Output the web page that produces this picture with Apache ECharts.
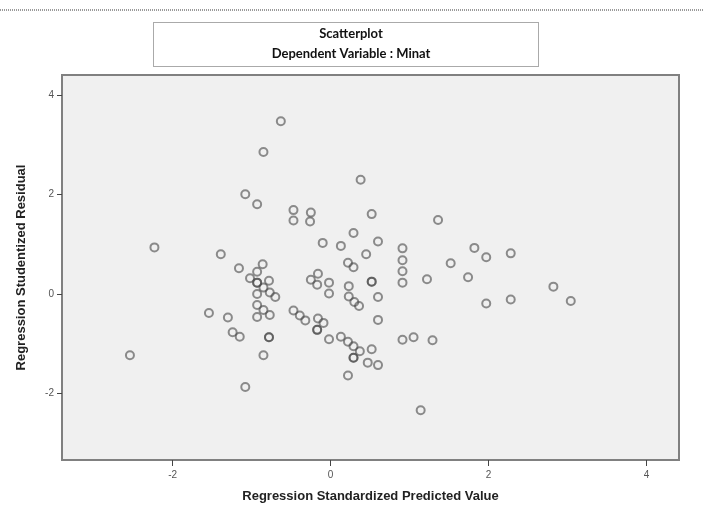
<!DOCTYPE html>
<html>
<head>
<meta charset="utf-8">
<script src="https://cdn.jsdelivr.net/npm/echarts@6/dist/echarts.min.js"></script>
<style>
html,body{margin:0;padding:0;background:#fff;}
#c{width:704px;height:507px;}
</style>
</head>
<body>
<div id="c"></div>
<script>
// Data: Regression Standardized Predicted Value (x) vs Regression Studentized Residual (y)
var predicted = [
  -0.63,-0.85,-1.08,-0.93,-0.47,-0.25,-0.47,-0.26,-2.23,-0.10,
   0.13,-1.39,-1.16,-0.86,-0.93,-1.02,-0.93,-0.78,-0.85,-0.16,
  -0.25,-0.17,-0.02, 0.22, 0.29,-0.93,-0.77,-0.70,-0.02, 0.23,
   0.23,-0.93,-0.85,-0.77,-0.93,-1.54,-1.30,-1.24,-1.15,-0.78,
  -0.47,-0.39,-0.32,-0.16,-0.09,-0.17,-0.02, 0.13, 0.22,-2.54,
  -0.85,-1.08, 0.29, 0.45, 0.60, 0.30, 0.36, 0.52, 0.52, 0.60,
   0.60, 0.29, 0.37, 0.29, 0.29, 0.52, 0.47, 0.60, 0.22, 0.38,
   0.52, 1.36, 0.91, 0.91, 0.91, 0.91, 1.52, 1.82, 1.97, 2.28,
   1.22, 1.74, 2.82, 3.04, 1.97, 2.28, 0.91, 1.05, 1.29, 1.14,
  -0.78,-0.17,-0.93
];
var residual = [
   3.48, 2.86, 2.01, 1.81, 1.69, 1.64, 1.48, 1.46, 0.94, 1.03,
   0.97, 0.80, 0.52, 0.60, 0.45, 0.32, 0.23, 0.27, 0.13, 0.41,
   0.29, 0.19, 0.23, 0.63, 1.23, 0.00, 0.03,-0.06, 0.01, 0.16,
  -0.05,-0.22,-0.32,-0.42,-0.46,-0.38,-0.47,-0.77,-0.86,-0.87,
  -0.33,-0.43,-0.53,-0.49,-0.58,-0.72,-0.91,-0.86,-0.96,-1.23,
  -1.23,-1.87, 0.54, 0.80, 1.06,-0.16,-0.24, 0.25, 0.25,-0.06,
  -0.52,-1.05,-1.15,-1.28,-1.28,-1.11,-1.38,-1.43,-1.64, 2.30,
   1.61, 1.49, 0.92, 0.68, 0.46, 0.23, 0.62, 0.93, 0.74, 0.82,
   0.30, 0.34, 0.15,-0.14,-0.19,-0.11,-0.92,-0.87,-0.93,-2.34,
  -0.87,-0.72, 0.23
];
var tickValues = [-2, 0, 2, 4];
var xName = 'Regression Standardized Predicted Value';
var yName = 'Regression Studentized Residual';
var titleLines = ['Scatterplot', 'Dependent Variable : Minat'];

var points = predicted.map(function (v, i) { return [v, residual[i]]; });

var chart = echarts.init(document.getElementById('c'), null, {renderer: 'canvas'});
var tickLabel = {color: '#555', fontSize: 10, fontFamily: 'Liberation Sans, Arial, sans-serif'};
chart.setOption({
  animation: false,
  backgroundColor: '#ffffff',
  title: {
    text: titleLines.join('\n'),
    left: 346, top: 19, textAlign: 'center',
    textStyle: {fontFamily: 'Lato, "Open Sans", sans-serif', fontWeight: 'bold', fontSize: 13, lineHeight: 20, color: '#111'}
  },
  graphic: [
    {type: 'line', shape: {x1: 0, y1: 10, x2: 704, y2: 10}, style: {stroke: '#9a9a9a', lineWidth: 2, lineDash: [1, 1]}},
    {type: 'rect', shape: {x: 153.5, y: 22.5, width: 385, height: 44}, style: {fill: 'none', stroke: '#555', lineWidth: 1, lineDash: [1, 1]}}
  ],
  grid: {
    left: 62, right: 25, top: 75, bottom: 47,
    outerBoundsMode: 'none', containLabel: false,
    show: true, backgroundColor: '#f0f0f0', borderColor: '#808080', borderWidth: 2
  },
  xAxis: {
    type: 'value', min: -3.4, max: 4.41,
    name: xName, nameLocation: 'middle', nameGap: 30,
    nameTextStyle: {fontFamily: 'Liberation Sans, Arial, sans-serif', fontWeight: 'bold', fontSize: 13, color: '#222'},
    axisLine: {show: false, onZero: false},
    splitLine: {show: false},
    axisTick: {show: true, length: 6, lineStyle: {color: '#444', width: 1}, customValues: tickValues},
    axisLabel: Object.assign({margin: 10, customValues: tickValues}, tickLabel)
  },
  yAxis: {
    type: 'value', min: -3.34, max: 4.41,
    name: yName, nameLocation: 'middle', nameGap: 34,
    nameTextStyle: {fontFamily: 'Liberation Sans, Arial, sans-serif', fontWeight: 'bold', fontSize: 13, color: '#222'},
    axisLine: {show: false, onZero: false},
    splitLine: {show: false},
    axisTick: {show: true, length: 5, lineStyle: {color: '#444', width: 1}, customValues: tickValues},
    axisLabel: Object.assign({margin: 8, customValues: tickValues}, tickLabel)
  },
  series: [{
    type: 'scatter',
    data: points,
    symbol: 'circle',
    symbolSize: 8,
    itemStyle: {color: 'rgba(0,0,0,0)', borderColor: 'rgba(70,70,70,0.75)', borderWidth: 2}
  }]
});
</script>
</body>
</html>
